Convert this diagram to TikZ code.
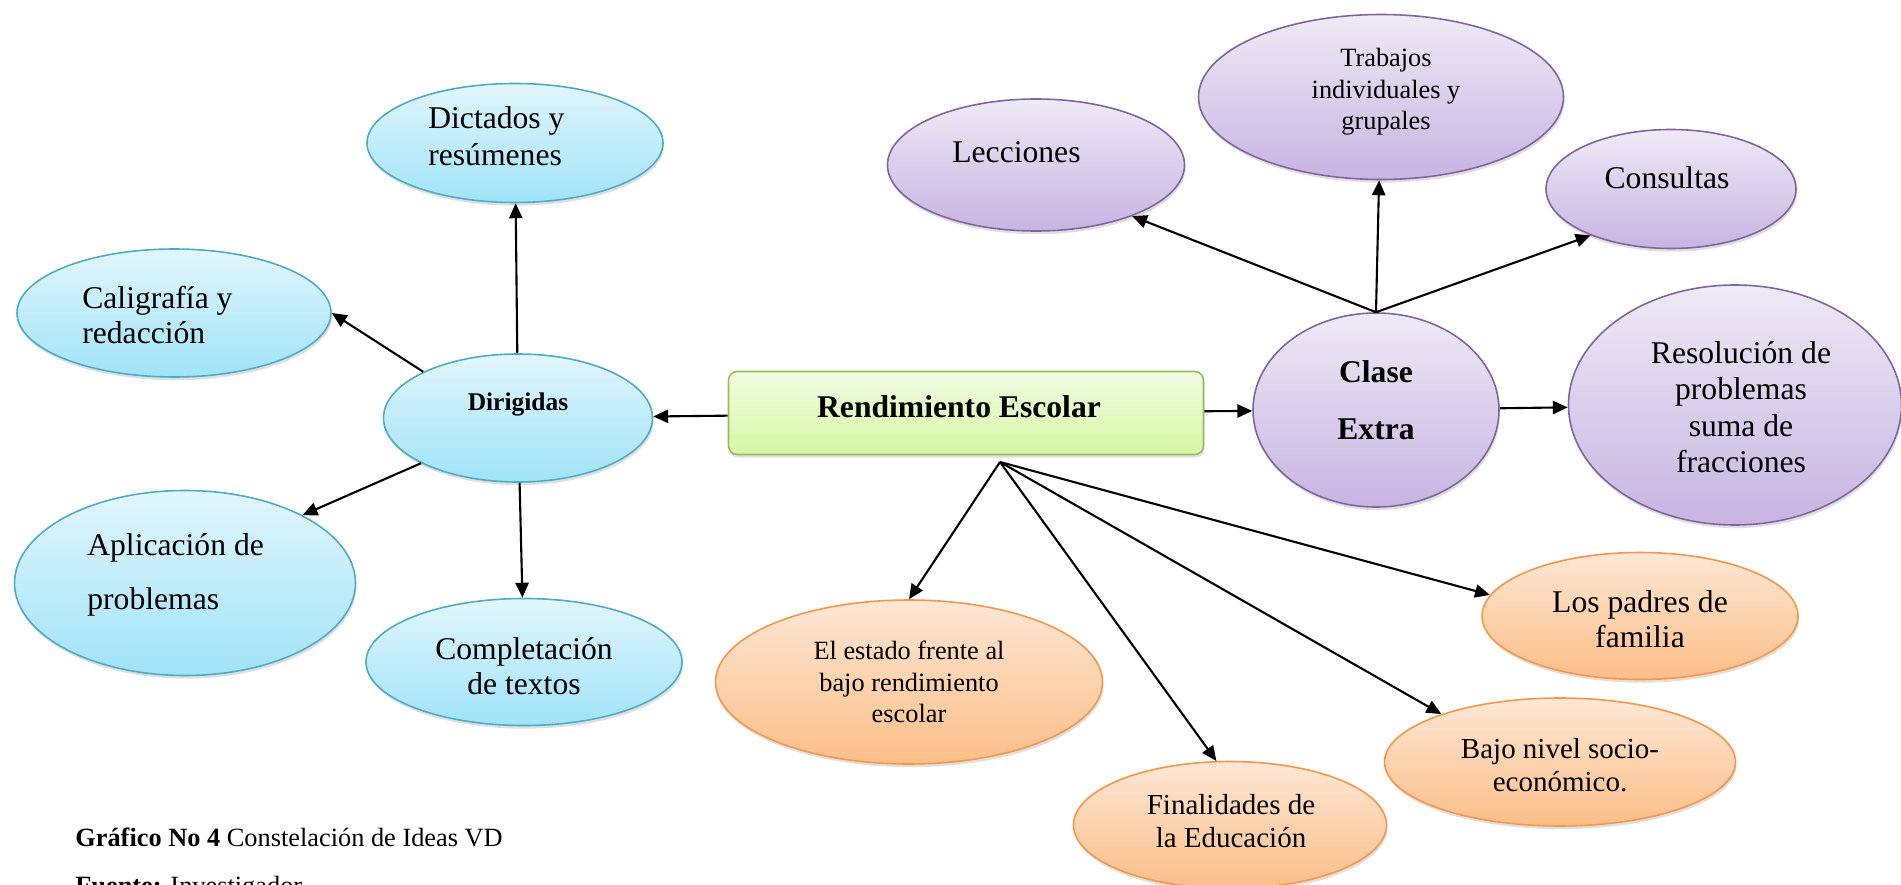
\documentclass[tikz,border=0pt]{standalone}
\usepackage{fontspec}
\setmainfont{Liberation Serif}
\usetikzlibrary{shapes.geometric}
\usetikzlibrary{arrows.meta}
\usetikzlibrary{shadows}

\definecolor{bluetop}{HTML}{E2F6FC}
\definecolor{bluebot}{HTML}{A0E3F8}
\definecolor{blueline}{HTML}{4BACC6}
\definecolor{purpletop}{HTML}{EEEAF6}
\definecolor{purplebot}{HTML}{C7B4E2}
\definecolor{purpleline}{HTML}{8064A2}
\definecolor{orangetop}{HTML}{FDE7D5}
\definecolor{orangebot}{HTML}{FBBE88}
\definecolor{orangeline}{HTML}{F79646}
\definecolor{greentop}{HTML}{F2FCE4}
\definecolor{greenbot}{HTML}{D6F6A4}
\definecolor{greenline}{HTML}{9BBB59}

\begin{document}
\begin{tikzpicture}[x=0.02cm, y=-0.02cm,
	wh/.style 2 args = {minimum width=#1*0.02cm,
		minimum height=#2*0.02cm},
	idea/.style = {ellipse, inner sep=0pt, line width=0.9pt,
		drop shadow={shadow xshift=0.6pt, shadow yshift=-1.8pt, opacity=0.25}},
	blueset/.style = {idea, draw=blueline,
		top color=bluetop, bottom color=bluebot},
	purpleset/.style = {idea, draw=purpleline,
		top color=purpletop, bottom color=purplebot},
	orangeset/.style = {idea, draw=orangeline,
		top color=orangetop, bottom color=orangebot},
	mainbox/.style = {rectangle, rounded corners=5pt, inner sep=0pt,
		line width=0.9pt, draw=greenline,
		top color=greentop, bottom color=greenbot,
		drop shadow={shadow xshift=0.6pt, shadow yshift=-1.8pt, opacity=0.25}},
	txt/.style = {inner sep=0pt, align=center,
		font=\fontsize{18}{21}\selectfont},
	arr/.style = {line width=1.2pt,
		-{Triangle[length=8.5pt,width=7.5pt]}}]
	
	\useasboundingbox (0,0) rectangle (1901,885);
	\clip (0,0) rectangle (1901,885);
	
	% Central box
	\node[mainbox, wh={475}{83}] (rend) at (966,413) {};
	
	% Dirigidas and its ideas
	\node[blueset, wh={269}{128}] (dir) at (518,418) {};
	\node[blueset, wh={296}{119}] (dict) at (515,143) {};
	\node[blueset, wh={314}{128}] (cal) at (174,313) {};
	\node[blueset, wh={341}{185}] (apl) at (185,583) {};
	\node[blueset, wh={316}{127}] (comp) at (524,662) {};
	
	% Clase Extra and its ideas
	\node[purpleset, wh={246}{194}] (clase) at (1376,410) {};
	\node[purpleset, wh={297}{132}] (lec) at (1036,165) {};
	\node[purpleset, wh={365}{165}] (trab) at (1381,97) {};
	\node[purpleset, wh={250}{119}] (cons) at (1671,189) {};
	\node[purpleset, wh={333}{240}] (res) at (1735,405) {};
	
	% Factors below
	\node[orangeset, wh={387}{164}] (estado) at (909,682) {};
	\node[orangeset, wh={313}{127}] (fin) at (1230,825) {};
	\node[orangeset, wh={351}{128}] (bajo) at (1560,762) {};
	\node[orangeset, wh={316}{127}] (padres) at (1640,616) {};
	\coordinate (hub) at (1000,462);
	
	% Arrows
	\draw[arr] (rend) -- (dir);
	\draw[arr] (rend) -- (clase);
	\draw[arr] (dir) -- (dict);
	\draw[arr] (dir.154) -- (cal.east);
	\draw[arr] (dir.205) -- (apl.30);
	\draw[arr] (dir) -- (comp);
	\draw[arr] (clase.north) -- (lec.-28);
	\draw[arr] (clase.north) -- (trab);
	\draw[arr] (clase.north) -- (cons.210);
	\draw[arr] (clase) -- (res);
	\draw[arr] (hub) -- (estado.north);
	\draw[arr] (hub) -- (fin.102);
	\draw[arr] (hub) -- (bajo.158);
	\draw[arr] (hub) -- (padres.172);
	
	% Texts
	\node[txt, font=\fontsize{18}{21}\selectfont\bfseries] (t-rend) at (959,407) {Rendimiento Escolar};
	\node[txt, font=\fontsize{14.5}{17}\selectfont\bfseries] (t-dir) at (518,404) {Dirigidas};
	\node[txt, anchor=west, align=left] (t-dict) at (428,136) {Dictados y\\resúmenes};
	\node[txt, anchor=west, align=left, font=\fontsize{18}{19.5}\selectfont] (t-cal) at (82,315) {Caligrafía y\\redacción};
	\node[txt, anchor=west, align=left, font=\fontsize{18}{31}\selectfont] (t-apl) at (87,575) {Aplicación de\\problemas};
	\node[txt, font=\fontsize{18}{20}\selectfont] (t-comp) at (524,666) {Completación\\de textos};
	
	\node[txt, font=\fontsize{18}{32.3}\selectfont\bfseries] (t-clase) at (1376,400) {Clase\\Extra};
	\node[txt, anchor=west] (t-lec) at (952,152) {Lecciones};
	\node[txt, font=\fontsize{15}{17.9}\selectfont] (t-trab) at (1386,92) {Trabajos\\individuales y\\grupales};
	\node[txt] (t-cons) at (1667,178) {Consultas};
	\node[txt, font=\fontsize{18}{20.8}\selectfont] (t-res) at (1741,407) {Resolución de\\problemas\\suma de\\fracciones};
	
	\node[txt, font=\fontsize{15}{18}\selectfont] (t-estado) at (909,682) {El estado frente al\\bajo rendimiento\\escolar};
	\node[txt, font=\fontsize{16.5}{18.7}\selectfont] (t-fin) at (1231,821) {Finalidades de\\la Educación};
	\node[txt, font=\fontsize{16.5}{18.7}\selectfont] (t-bajo) at (1560,765) {Bajo nivel socio-\\económico.};
	\node[txt, font=\fontsize{18}{19.8}\selectfont] (t-padres) at (1640,619) {Los padres de\\familia};
	
	% Caption
	\node[txt, anchor=base west, font=\fontsize{15}{17}\selectfont] (cap) at (75,846) {\textbf{Gráfico No 4} Constelación de Ideas VD};
	\node[txt, anchor=base west, font=\fontsize{15}{17}\selectfont] (src) at (75,894) {\textbf{Fuente:} Investigador};
	
\end{tikzpicture}
\end{document}
